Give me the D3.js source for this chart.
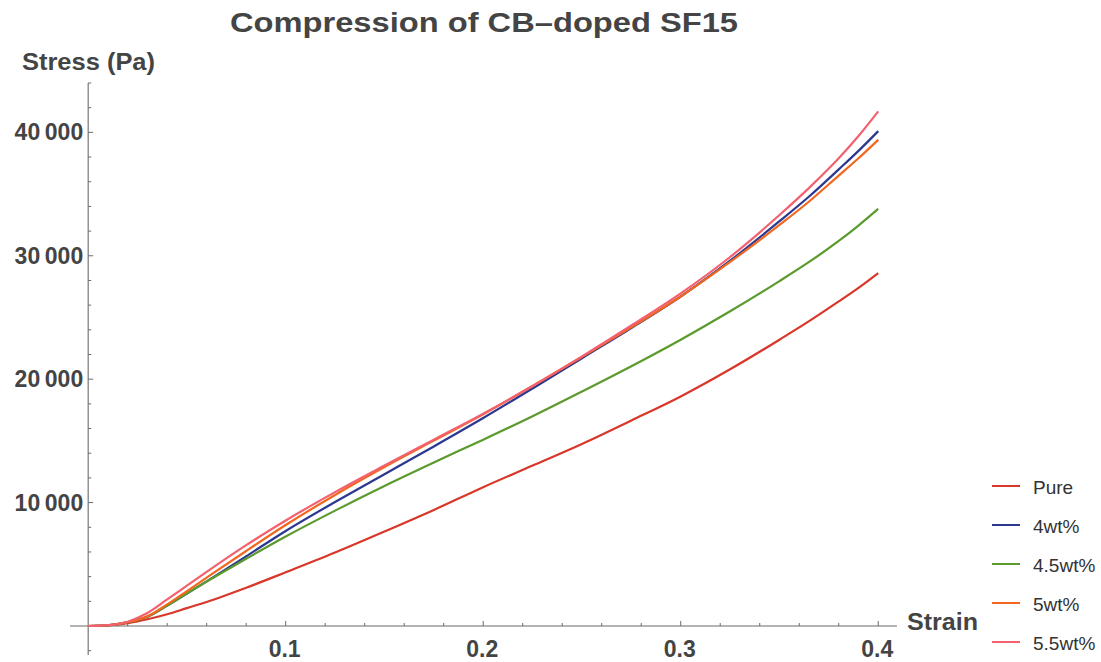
<!DOCTYPE html>
<html>
<head>
<meta charset="utf-8">
<script src="https://cdn.jsdelivr.net/npm/d3@7"></script>
<style>
  html, body { margin: 0; padding: 0; background: #fff; }
  svg { display: block; }
  text { font-family: "Liberation Sans", Arial, sans-serif; }
</style>
</head>
<body>
<svg id="chart" width="1101" height="662"></svg>
<script>
// Compression test: stress vs strain for carbon-black doped SF15 samples
const strain = [0, 0.01, 0.02, 0.03, 0.04, 0.05, 0.06, 0.08, 0.1, 0.125, 0.15, 0.175, 0.2,
                0.225, 0.25, 0.275, 0.3, 0.325, 0.35, 0.365, 0.38, 0.39, 0.4];

const stressPure = [0, 50, 230, 550, 950, 1450, 1950, 3100, 4350, 5950, 7650, 9400, 11250,
                    13000, 14750, 16650, 18600, 20800, 23200, 24700, 26300, 27400, 28600];
const stress4    = [0, 60, 300, 750, 1650, 2620, 3620, 5650, 7700, 10050, 12300, 14550, 16850,
                    19250, 21700, 24150, 26700, 29600, 32800, 34800, 37000, 38500, 40100];
const stress45   = [0, 60, 300, 760, 1650, 2650, 3600, 5450, 7250, 9350, 11350, 13250, 15100,
                    17000, 19000, 21050, 23200, 25500, 27950, 29500, 31200, 32450, 33800];
const stress5    = [0, 60, 310, 780, 1750, 2830, 3920, 6080, 8180, 10620, 12880, 15020, 17150,
                    19450, 21800, 24200, 26700, 29500, 32500, 34400, 36500, 37900, 39400];
const stress55   = [0, 70, 350, 1050, 2150, 3270, 4390, 6550, 8550, 10850, 13000, 15100, 17200,
                    19450, 21850, 24350, 26950, 29900, 33300, 35500, 37900, 39700, 41700];

const seriesNames  = ["Pure", "4wt%", "4.5wt%", "5wt%", "5.5wt%"];
const seriesValues = [stressPure, stress4, stress45, stress5, stress55];
const seriesColors = ["#d9372a", "#2b3890", "#5b9a2c", "#f2671f", "#f3606e"];

const xMajorTicks = [0.1, 0.2, 0.3, 0.4];
const yMajorTicks = [10000, 20000, 30000, 40000];
const yTickLabels = ["10\u2009000", "20\u2009000", "30\u2009000", "40\u2009000"];

const svg = d3.select("#chart");

const x = d3.scaleLinear().domain([-0.0092, 0.4095]).range([70, 897]);
const y = d3.scaleLinear().domain([-2350, 44000]).range([655, 83]);

const axisColor = "#6b6b6b";
const labelColor = "#444";

// x axis (runs through y = 0)
const gx = svg.append("g").attr("transform", `translate(0,${y(0)})`);
gx.append("line").attr("x1", x.range()[0]).attr("x2", x.range()[1])
  .attr("stroke", axisColor).attr("stroke-width", 1.1);
const xMinor = d3.range(0.02, 0.4001, 0.02);
gx.selectAll("line.minor").data(xMinor).join("line")
  .attr("x1", d => x(d)).attr("x2", d => x(d))
  .attr("y1", 0).attr("y2", d => xMajorTicks.some(t => Math.abs(t - d) < 1e-9) ? -5 : -3)
  .attr("stroke", axisColor).attr("stroke-width", 1);
gx.selectAll("text").data(xMajorTicks).join("text")
  .attr("x", d => x(d) - 1).attr("y", 31)
  .attr("text-anchor", "middle")
  .attr("font-size", 23).attr("font-weight", "bold").attr("fill", labelColor)
  .text(d => d3.format(".1f")(d));

// y axis (runs through x = 0)
const gy = svg.append("g").attr("transform", `translate(${x(0)},0)`);
gy.append("line").attr("y1", y.range()[0]).attr("y2", y.range()[1])
  .attr("stroke", axisColor).attr("stroke-width", 1.1);
const yMinor = d3.range(-2000, 44001, 2000);
gy.selectAll("line.minor").data(yMinor).join("line")
  .attr("y1", d => y(d)).attr("y2", d => y(d))
  .attr("x1", 0).attr("x2", d => yMajorTicks.includes(d) ? 5 : 3)
  .attr("stroke", axisColor).attr("stroke-width", 1);
gy.selectAll("text").data(yMajorTicks).join("text")
  .attr("x", -5).attr("y", d => y(d) + 8)
  .attr("text-anchor", "end")
  .attr("font-size", 23).attr("font-weight", "bold").attr("fill", labelColor)
  .text((d, i) => yTickLabels[i]);

// curves
const line = d3.line()
  .x(d => x(d[0]))
  .y(d => y(d[1]))
  .curve(d3.curveMonotoneX);

seriesValues.forEach((vals, i) => {
  svg.append("path")
    .datum(strain.map((s, k) => [s, vals[k]]))
    .attr("fill", "none")
    .attr("stroke", seriesColors[i])
    .attr("stroke-width", 2.2)
    .attr("stroke-linejoin", "round")
    .attr("d", line);
});

// title and axis labels
svg.append("text").attr("x", 230).attr("y", 32)
  .attr("font-size", 27).attr("font-weight", "bold").attr("fill", labelColor)
  .attr("textLength", 508).attr("lengthAdjust", "spacingAndGlyphs")
  .text("Compression of CB\u2013doped SF15");

svg.append("text").attr("x", 22).attr("y", 70)
  .attr("font-size", 23).attr("font-weight", "bold").attr("fill", labelColor)
  .attr("textLength", 133).attr("lengthAdjust", "spacingAndGlyphs")
  .text("Stress (Pa)");

svg.append("text").attr("x", 907).attr("y", 630)
  .attr("font-size", 23).attr("font-weight", "bold").attr("fill", labelColor)
  .attr("textLength", 71).attr("lengthAdjust", "spacingAndGlyphs")
  .text("Strain");

// legend
const legendY = [486, 525, 564, 603, 642];
const legend = svg.append("g");
seriesNames.forEach((name, i) => {
  legend.append("line")
    .attr("x1", 992).attr("x2", 1020)
    .attr("y1", legendY[i]).attr("y2", legendY[i])
    .attr("stroke", seriesColors[i]).attr("stroke-width", 2);
  legend.append("text")
    .attr("x", 1033).attr("y", legendY[i] + 8)
    .attr("font-size", 19).attr("fill", "#333")
    .text(name);
});
</script>
</body>
</html>
